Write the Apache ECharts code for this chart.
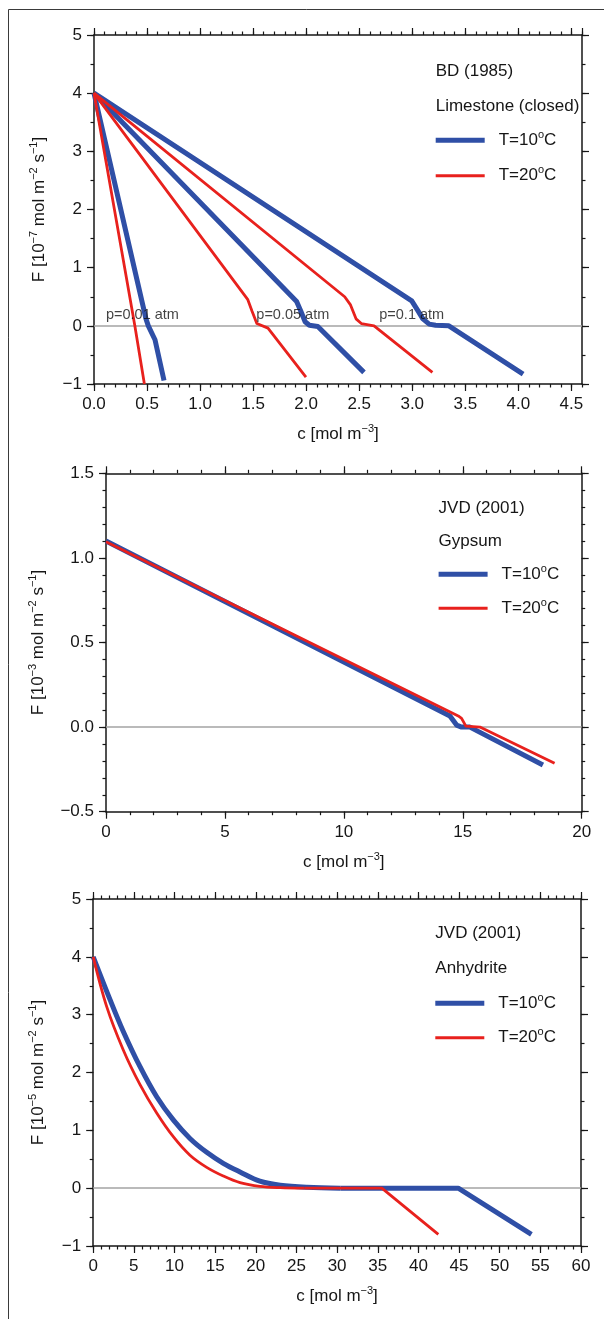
<!DOCTYPE html>
<html>
<head>
<meta charset="utf-8">
<script src="https://cdn.jsdelivr.net/npm/echarts@6/dist/echarts.min.js"></script>
<style>
  html, body { margin: 0; padding: 0; background: #fff; }
  #chart { width: 604px; height: 1319px; }
</style>
</head>
<body>
<div id="chart"></div>
<script>
var FONT = "'Liberation Sans', Arial, Helvetica, sans-serif";
var INK = '#161616';
var BLUE = '#2f4fa6';
var RED = '#e8211d';

// --- panel 1: limestone, BD (1985) --- [c, F]
var limeBlue001 = [[0, 4], [0.49, 0.12], [0.512, 0.0], [0.575, -0.24], [0.66, -0.94]];
var limeRed001 = [[0, 4], [0.385, 0.0], [0.475, -1.0]];
var limeBlue005 = [[0, 4], [1.91, 0.42], [1.95, 0.25], [1.99, 0.07], [2.03, 0.01], [2.11, -0.01], [2.545, -0.80]];
var limeRed005 = [[0, 4], [1.45, 0.45], [1.49, 0.25], [1.535, 0.04], [1.64, -0.04], [1.998, -0.88]];
var limeBlue01 = [[0, 4], [2.995, 0.43], [3.05, 0.27], [3.10, 0.12], [3.16, 0.03], [3.22, 0.01], [3.345, 0.0], [4.045, -0.83]];
var limeRed01 = [[0, 4], [2.363, 0.50], [2.418, 0.36], [2.47, 0.12], [2.52, 0.04], [2.64, 0.0], [3.19, -0.80]];
var noteText = ['p=0.01 atm', 'p=0.05 atm', 'p=0.1 atm'];
var noteX = [0.113, 1.53, 2.689];
var noteY = [0.18, 0.18, 0.18];

// --- panel 2: gypsum, JVD (2001) ---
var gypBlue = [[0, 1.10], [14.46, 0.066], [14.74, 0.012], [14.95, 0.0], [15.3, 0.0], [18.37, -0.224]];
var gypRed = [[0, 1.095], [14.81, 0.066], [14.95, 0.052], [15.13, 0.006], [15.72, 0.0], [18.86, -0.214]];

// --- panel 3: anhydrite, JVD (2001) ---
var anhBlue = [[0, 4.0], [2.07, 3.26], [3.70, 2.71], [5.76, 2.10], [7.81, 1.58], [9.85, 1.18], [11.9, 0.86],
  [13.96, 0.62], [16.0, 0.43], [18.06, 0.28], [20.5, 0.12], [23, 0.05], [26.3, 0.015], [30.4, 0.0],
  [44.9, 0.0], [53.9, -0.80]];
var anhRed = [[0, 4.0], [1.66, 3.14], [3.70, 2.39], [5.76, 1.79], [7.81, 1.30], [9.85, 0.89], [11.9, 0.57],
  [13.96, 0.36], [16.0, 0.21], [18.06, 0.095], [20.5, 0.03], [23, 0.008], [26, 0.0], [35.5, 0.0],
  [42.45, -0.80]];

var legendTitles = ['BD (1985)', 'JVD (2001)', 'JVD (2001)'];
var legendSubs = ['Limestone (closed)', 'Gypsum', 'Anhydrite'];
var temps = [10, 20];

var xName = 'c [mol m{s|\u22123}]';
var panels = [
  { grid: { left: 94, top: 35, width: 488, height: 349 },
    x: { min: 0, max: 4.6, major: 0.5, minor: 0.1, digits: 1, hideMax: true },
    y: { min: -1, max: 5, major: 1, minor: 0.5, digits: 0 },
    yName: 'F [10{s|\u22127} mol m{s|\u22122} s{s|\u22121}]', yGap: 44,
    blue: [limeBlue001, limeBlue005, limeBlue01], red: [limeRed001, limeRed005, limeRed01],
    smooth: false,
    legendX: 435.7, legendY: [71.7, 106.7, 140.3, 175.7] },
  { grid: { left: 106, top: 473.3, width: 475.7, height: 338.4 },
    x: { min: 0, max: 20, major: 5, minor: 1, digits: 0 },
    y: { min: -0.5, max: 1.5, major: 0.5, minor: 0.1, digits: 1 },
    yName: 'F [10{s|\u22123} mol m{s|\u22122} s{s|\u22121}]', yGap: 56.5,
    blue: [gypBlue], red: [gypRed], smooth: false,
    legendX: 438.6, legendY: [508.3, 541.7, 574.3, 608.3] },
  { grid: { left: 93.2, top: 899, width: 487.8, height: 347 },
    x: { min: 0, max: 60, major: 5, minor: 1, digits: 0 },
    y: { min: -1, max: 5, major: 1, minor: 0.5, digits: 0 },
    yName: 'F [10{s|\u22125} mol m{s|\u22122} s{s|\u22121}]', yGap: 43.7,
    blue: [anhBlue], red: [anhRed], smooth: true,
    legendX: 435.3, legendY: [933.3, 968.3, 1003.3, 1037.7] }
];

var nameStyle = {
  fontSize: 17, fontFamily: FONT, color: INK, lineHeight: 22,
  rich: { s: { fontSize: 11, lineHeight: 11, verticalAlign: 'top', fontFamily: FONT, color: INK } }
};

function makeAxis(gi, pos, s, isMajor, withLabels, name, gap) {
  var a = {
    type: 'value', gridIndex: gi, position: pos,
    min: s.min, max: s.max, interval: isMajor ? s.major : s.minor,
    axisLine: { show: isMajor, onZero: false, lineStyle: { color: INK, width: 1.5 } },
    axisTick: { show: true, inside: false, length: isMajor ? 7 : 3.5, lineStyle: { color: INK, width: 1.2 } },
    axisLabel: {
      show: !!withLabels, margin: 12, fontSize: 17, fontFamily: FONT, color: INK,
      showMinLabel: true, showMaxLabel: !s.hideMax,
      formatter: function (v) { return v.toFixed(s.digits).replace('-', '\u2212'); }
    },
    splitLine: { show: false }
  };
  if (name) {
    a.name = name;
    a.nameLocation = 'middle';
    a.nameGap = gap;
    a.nameTextStyle = nameStyle;
  }
  return a;
}

var xAxes = [], yAxes = [], mainX = [], mainY = [];
panels.forEach(function (p, gi) {
  ['bottom', 'top'].forEach(function (pos, k) {
    if (k === 0) mainX.push(xAxes.length);
    xAxes.push(makeAxis(gi, pos, p.x, true, k === 0, k === 0 ? xName : null, 39.5));
    xAxes.push(makeAxis(gi, pos, p.x, false, false));
  });
  ['left', 'right'].forEach(function (pos, k) {
    if (k === 0) mainY.push(yAxes.length);
    yAxes.push(makeAxis(gi, pos, p.y, true, k === 0, k === 0 ? p.yName : null, p.yGap));
    yAxes.push(makeAxis(gi, pos, p.y, false, false));
  });
});

var series = [];
function addCurve(gi, d, color, width, z, smooth) {
  var parts = [d];
  if (smooth) {
    // curved part is smoothed, the plateau and the straight tail are not
    var k = 0;
    while (k < d.length && d[k][1] > 0) k++;
    parts = [d.slice(0, k + 1), d.slice(k)];
  }
  parts.forEach(function (part, i) {
    series.push({
      type: 'line', xAxisIndex: mainX[gi], yAxisIndex: mainY[gi], data: part, z: z,
      smooth: smooth && i === 0 ? 0.35 : false,
      symbol: 'none', showSymbol: false,
      lineStyle: { color: color, width: width, join: 'round', cap: 'butt' }
    });
  });
}

panels.forEach(function (p, gi) {
  series.push({
    type: 'line', xAxisIndex: mainX[gi], yAxisIndex: mainY[gi], data: [], silent: true,
    markLine: {
      silent: true, symbol: 'none', z: 1, animation: false,
      label: { show: false },
      lineStyle: { color: '#a3a3a3', width: 1.5, type: 'solid' },
      data: [{ yAxis: 0 }]
    }
  });
  p.blue.forEach(function (d) { addCurve(gi, d, BLUE, 5, 3, p.smooth); });
  p.red.forEach(function (d) { addCurve(gi, d, RED, 2.8, 4, p.smooth); });
});

series.push({
  type: 'scatter', xAxisIndex: mainX[0], yAxisIndex: mainY[0], z: 5, symbolSize: 0, silent: true,
  data: noteText.map(function (t, i) { return { name: t, value: [noteX[i], noteY[i]] }; }),
  label: { show: true, position: 'right', distance: 0, formatter: '{b}', fontSize: 14.5, fontFamily: FONT, color: '#111' }
});

var legendRich = {
  n: { fontSize: 17, lineHeight: 22, fontFamily: FONT, fill: INK },
  s: { fontSize: 11, lineHeight: 11, verticalAlign: 'top', fontFamily: FONT, fill: INK }
};
function txt(x, y, text) {
  return {
    type: 'text', x: x, y: y, silent: true,
    style: { text: text, fontSize: 17, fontFamily: FONT, fill: INK, lineHeight: 22,
      align: 'left', verticalAlign: 'middle', rich: legendRich }
  };
}

var graphics = [{
  type: 'rect', silent: true, z: -1,
  shape: { x: 8.5, y: 9.5, width: 700, height: 1400 },
  style: { fill: 'none', stroke: '#3a3a3a', lineWidth: 1 }
}];
panels.forEach(function (p, gi) {
  var x = p.legendX, ys = p.legendY;
  graphics.push(txt(x, ys[0], legendTitles[gi]));
  graphics.push(txt(x, ys[1], legendSubs[gi]));
  [BLUE, RED].forEach(function (col, k) {
    graphics.push({
      type: 'line', silent: true,
      shape: { x1: x, y1: ys[2 + k], x2: x + 49, y2: ys[2 + k] },
      style: { stroke: col, lineWidth: k === 0 ? 5 : 3 }
    });
    graphics.push(txt(x + 63, ys[2 + k], '{n|T=' + temps[k] + '}{s|o}{n|C}'));
  });
});

var chart = echarts.init(document.getElementById('chart'), null, { renderer: 'canvas' });
chart.setOption({
  animation: false,
  backgroundColor: '#fff',
  textStyle: { fontFamily: FONT },
  grid: panels.map(function (p) {
    return { left: p.grid.left, top: p.grid.top, width: p.grid.width, height: p.grid.height,
      containLabel: false, outerBoundsMode: 'none' };
  }),
  xAxis: xAxes,
  yAxis: yAxes,
  series: series,
  graphic: graphics
});
</script>
</body>
</html>
